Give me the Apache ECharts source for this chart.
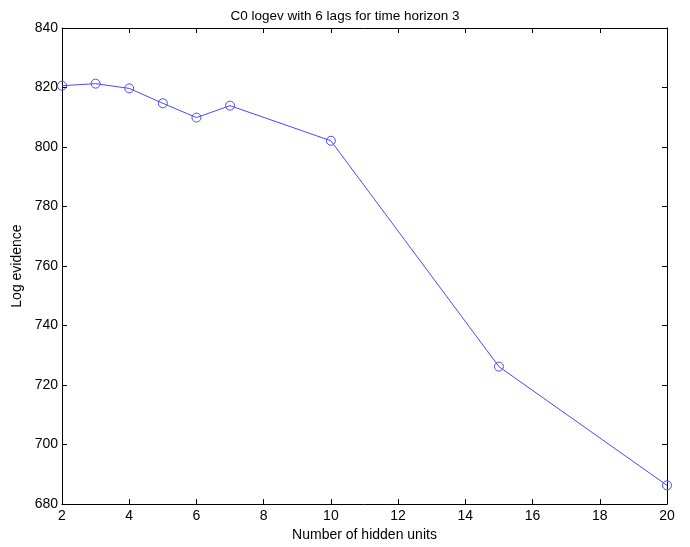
<!DOCTYPE html>
<html><head><meta charset="utf-8">
<script src="https://cdn.jsdelivr.net/npm/echarts@6/dist/echarts.min.js"></script>
<style>html,body{margin:0;padding:0;background:#fff}#c{width:690px;height:547px}</style>
</head><body><div id="c"></div>
<script>
const hiddenUnits = [2, 3, 4, 5, 6, 7, 10, 15, 20];
const logEvidence = [820.6, 821.3, 819.7, 814.7, 809.9, 813.9, 802.1, 726.2, 686.3];
const xTicks = [2, 4, 6, 8, 10, 12, 14, 16, 18, 20];
const yTicks = [680, 700, 720, 740, 760, 780, 800, 820, 840];

const font = 'Liberation Sans, Arial, sans-serif';
const chart = echarts.init(document.getElementById('c'));
const axisCommon = {
  axisLine: {show: true, lineStyle: {color: '#000', width: 1}},
  axisTick: {show: true, inside: true, length: 5, lineStyle: {color: '#000'}},
  splitLine: {show: false}
};
chart.setOption({
  animation: false,
  backgroundColor: '#fff',
  title: {text: 'C0 logev with 6 lags for time horizon 3', left: 'center', top: 4, padding: [5, 0, 5, 42],
    textStyle: {fontFamily: font, fontSize: 13.5, fontWeight: 'normal', color: '#000'}},
  grid: {left: 62, right: 23, top: 28, bottom: 41},
  xAxis: [
    Object.assign({type: 'value', min: xTicks[0], max: xTicks[xTicks.length-1], interval: 2, position: 'bottom',
      name: 'Number of hidden units', nameLocation: 'middle', nameGap: 22,
      nameTextStyle: {fontFamily: font, fontSize: 14, color: '#000'},
      axisLabel: {fontFamily: font, fontSize: 14, color: '#000', margin: 5}}, axisCommon),
    Object.assign({type: 'value', min: xTicks[0], max: xTicks[xTicks.length-1], interval: 2, position: 'top',
      axisLabel: {show: false}}, axisCommon)
  ],
  yAxis: [
    Object.assign({type: 'value', min: yTicks[0], max: yTicks[yTicks.length-1], interval: 20, position: 'left',
      name: 'Log evidence', nameLocation: 'middle', nameGap: 32, nameRotate: 90,
      nameTextStyle: {fontFamily: font, fontSize: 14, color: '#000'},
      axisLabel: {fontFamily: font, fontSize: 14, color: '#000', margin: 4}}, axisCommon),
    Object.assign({type: 'value', min: yTicks[0], max: yTicks[yTicks.length-1], interval: 20, position: 'right',
      axisLabel: {show: false}}, axisCommon)
  ],
  series: [{
    type: 'line',
    data: hiddenUnits.map((x, i) => [x, logEvidence[i]]),
    symbol: 'circle', symbolSize: 9, showAllSymbol: true,
    lineStyle: {color: '#4a4aff', width: 1},
    itemStyle: {color: 'rgba(0,0,0,0)', borderColor: '#4a4aff', borderWidth: 1},
    clip: false
  }]
});
</script></body></html>
